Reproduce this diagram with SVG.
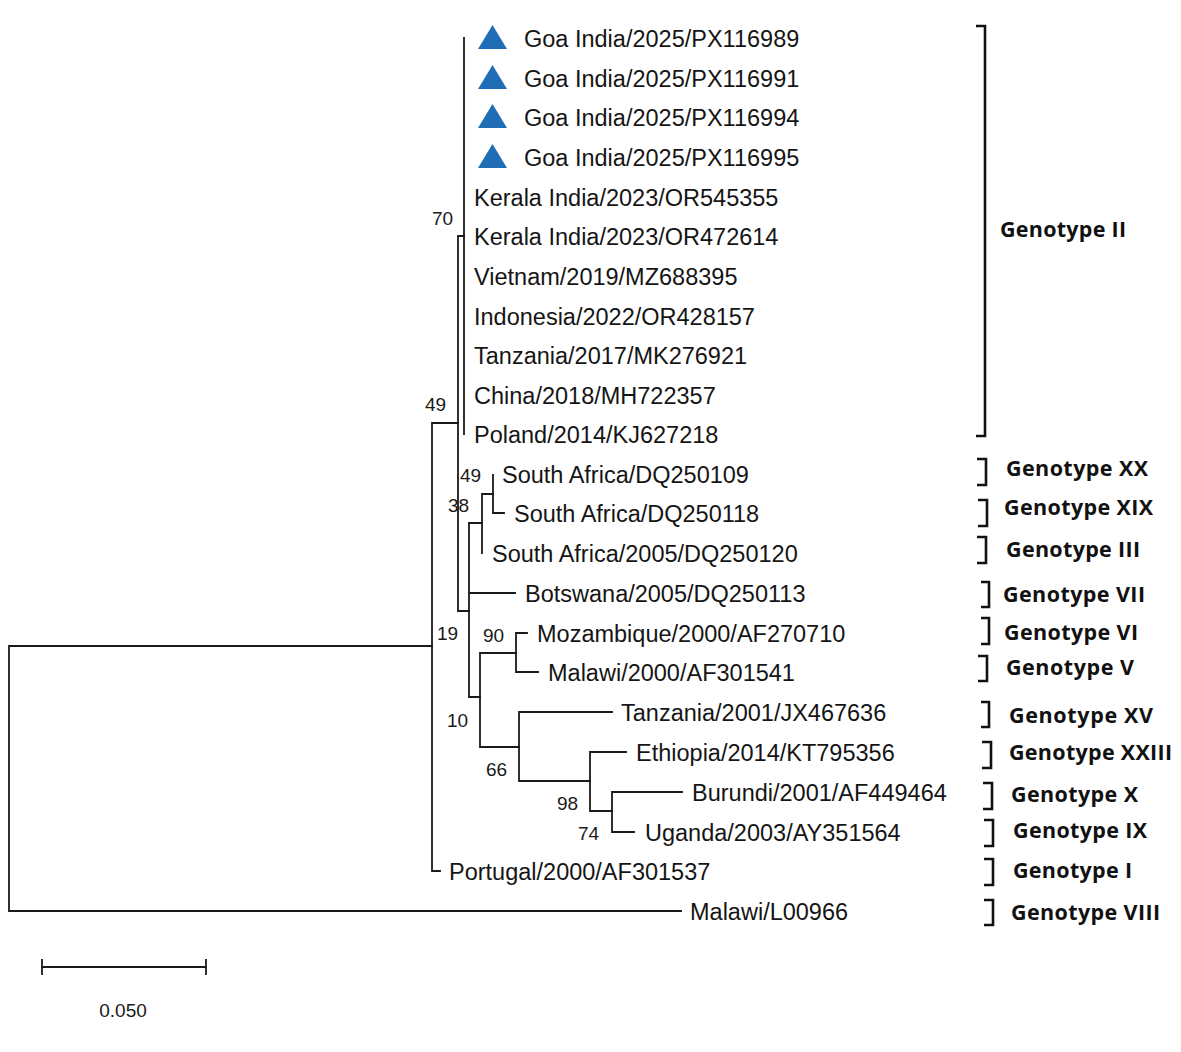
<svg xmlns="http://www.w3.org/2000/svg" width="1181" height="1052" viewBox="0 0 1181 1052">
<style>
.tree{fill:none;stroke:#1a1a1a;stroke-width:1.8;stroke-linecap:square}
.lbl{font-family:"Liberation Sans",Arial,sans-serif;font-size:23.5px;fill:#151515}
.bs{font-family:"Liberation Sans",Arial,sans-serif;font-size:19px;fill:#1a1a1a}
.gt{font-family:"Open Sans","DejaVu Sans",sans-serif;font-weight:bold;font-size:21.5px;fill:#111}
.br{fill:none;stroke:#111;stroke-width:2.6}
.tri{fill:#1F6EB5}
</style>
<rect width="1181" height="1052" fill="#fff"/>
<g id="connectors" class="tree">
<path d="M9,646 V911 M9,646 H432 M9,911 H681"/>
<path d="M432,423 V871 M432,871 H440 M432,423 H458"/>
<path d="M458,236 V611 M458,236 H464 M458,611 H469"/>
<path d="M464,38 V434"/>
<path d="M469,523 V697 M469,523 H482 M469,593 H515 M469,697 H480"/>
<path d="M482,494 V553 M482,494 H493"/>
<path d="M493,475 V513 M493,513 H504"/>
<path d="M480,653 V747 M480,653 H516 M480,747 H519"/>
<path d="M516,633 V672 M516,633 H527 M516,672 H538"/>
<path d="M519,712 V781 M519,712 H612 M519,781 H590"/>
<path d="M590,752 V811 M590,752 H626 M590,811 H612"/>
<path d="M612,792 V832 M612,792 H682 M612,832 H634"/>
</g>
<g id="bootstrap">
<text class="bs" x="432" y="225">70</text>
<text class="bs" x="425" y="411">49</text>
<text class="bs" x="460" y="482">49</text>
<text class="bs" x="448" y="512">38</text>
<text class="bs" x="437" y="640">19</text>
<text class="bs" x="483" y="642">90</text>
<text class="bs" x="447" y="727">10</text>
<text class="bs" x="486" y="776">66</text>
<text class="bs" x="557" y="810">98</text>
<text class="bs" x="578" y="840">74</text>
</g>
<g id="leaf-PX116989"><polygon class="tri" points="478,49 507,49 492.5,25"/><text class="lbl" x="524" y="46.5">Goa India/2025/PX116989</text></g>
<g id="leaf-PX116991"><polygon class="tri" points="478,89 507,89 492.5,65"/><text class="lbl" x="524" y="86.5">Goa India/2025/PX116991</text></g>
<g id="leaf-PX116994"><polygon class="tri" points="478,128 507,128 492.5,104"/><text class="lbl" x="524" y="125.5">Goa India/2025/PX116994</text></g>
<g id="leaf-PX116995"><polygon class="tri" points="478,168 507,168 492.5,144"/><text class="lbl" x="524" y="165.5">Goa India/2025/PX116995</text></g>
<g id="leaf-OR545355"><text class="lbl" x="474" y="205.5">Kerala India/2023/OR545355</text></g>
<g id="leaf-OR472614"><text class="lbl" x="474" y="244.5">Kerala India/2023/OR472614</text></g>
<g id="leaf-MZ688395"><text class="lbl" x="474" y="284.5">Vietnam/2019/MZ688395</text></g>
<g id="leaf-OR428157"><text class="lbl" x="474" y="324.5">Indonesia/2022/OR428157</text></g>
<g id="leaf-MK276921"><text class="lbl" x="474" y="363.5">Tanzania/2017/MK276921</text></g>
<g id="leaf-MH722357"><text class="lbl" x="474" y="403.5">China/2018/MH722357</text></g>
<g id="leaf-KJ627218"><text class="lbl" x="474" y="442.5">Poland/2014/KJ627218</text></g>
<g id="leaf-DQ250109"><text class="lbl" x="502" y="482.5">South Africa/DQ250109</text></g>
<g id="leaf-DQ250118"><text class="lbl" x="514" y="521.5">South Africa/DQ250118</text></g>
<g id="leaf-DQ250120"><text class="lbl" x="492" y="561.5">South Africa/2005/DQ250120</text></g>
<g id="leaf-DQ250113"><text class="lbl" x="525" y="601.5">Botswana/2005/DQ250113</text></g>
<g id="leaf-AF270710"><text class="lbl" x="537" y="641.5">Mozambique/2000/AF270710</text></g>
<g id="leaf-AF301541"><text class="lbl" x="548" y="680.5">Malawi/2000/AF301541</text></g>
<g id="leaf-JX467636"><text class="lbl" x="621" y="720.5">Tanzania/2001/JX467636</text></g>
<g id="leaf-KT795356"><text class="lbl" x="636" y="760.5">Ethiopia/2014/KT795356</text></g>
<g id="leaf-AF449464"><text class="lbl" x="692" y="800.5">Burundi/2001/AF449464</text></g>
<g id="leaf-AY351564"><text class="lbl" x="645" y="840.5">Uganda/2003/AY351564</text></g>
<g id="leaf-AF301537"><text class="lbl" x="449" y="879.5">Portugal/2000/AF301537</text></g>
<g id="leaf-L00966"><text class="lbl" x="690" y="919.5">Malawi/L00966</text></g>
<g id="genotype-II"><path class="br" d="M976,26 H985 V436 H976"/><text class="gt" x="1000" y="237" textLength="126" lengthAdjust="spacing">Genotype II</text></g>
<g id="genotype-XX"><path class="br" d="M977,459 H986 V485 H977"/><text class="gt" x="1006" y="476" textLength="142" lengthAdjust="spacing">Genotype XX</text></g>
<g id="genotype-XIX"><path class="br" d="M978,500 H987 V526 H978"/><text class="gt" x="1004" y="515" textLength="149" lengthAdjust="spacing">Genotype XIX</text></g>
<g id="genotype-III"><path class="br" d="M977,537 H986 V563 H977"/><text class="gt" x="1006" y="557" textLength="134" lengthAdjust="spacing">Genotype III</text></g>
<g id="genotype-VII"><path class="br" d="M981,582 H989 V607 H981"/><text class="gt" x="1003" y="602" textLength="142" lengthAdjust="spacing">Genotype VII</text></g>
<g id="genotype-VI"><path class="br" d="M981,618 H989 V644 H981"/><text class="gt" x="1004" y="640" textLength="134" lengthAdjust="spacing">Genotype VI</text></g>
<g id="genotype-V"><path class="br" d="M978,656 H987 V681 H978"/><text class="gt" x="1006" y="675" textLength="128" lengthAdjust="spacing">Genotype V</text></g>
<g id="genotype-XV"><path class="br" d="M981,702 H989 V727 H981"/><text class="gt" x="1009" y="723" textLength="144" lengthAdjust="spacing">Genotype XV</text></g>
<g id="genotype-XXIII"><path class="br" d="M982,742 H991 V768 H982"/><text class="gt" x="1009" y="760" textLength="163" lengthAdjust="spacing">Genotype XXIII</text></g>
<g id="genotype-X"><path class="br" d="M983,783 H992 V809 H983"/><text class="gt" x="1011" y="802" textLength="127" lengthAdjust="spacing">Genotype X</text></g>
<g id="genotype-IX"><path class="br" d="M984,820 H993 V846 H984"/><text class="gt" x="1013" y="838" textLength="134" lengthAdjust="spacing">Genotype IX</text></g>
<g id="genotype-I"><path class="br" d="M984,859 H993 V885 H984"/><text class="gt" x="1013" y="878" textLength="119" lengthAdjust="spacing">Genotype I</text></g>
<g id="genotype-VIII"><path class="br" d="M984,900 H993 V925 H984"/><text class="gt" x="1011" y="920" textLength="149" lengthAdjust="spacing">Genotype VIII</text></g>
<g id="scale-bar">
<path class="tree" d="M42,967 H206 M42,960 V974 M206,960 V974"/>
<text class="bs" x="123" y="1017" text-anchor="middle" font-size="20">0.050</text>
</g>
</svg>
